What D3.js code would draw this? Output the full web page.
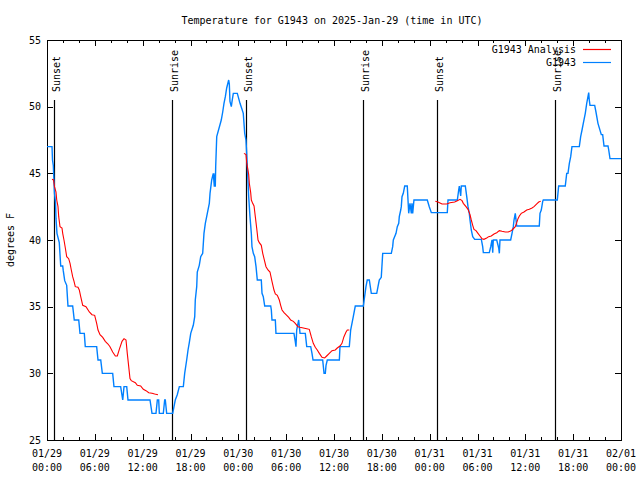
<!DOCTYPE html>
<html><head><meta charset="utf-8">
<script src="https://cdn.jsdelivr.net/npm/d3@7"></script>
<style>
body{margin:0;background:#fff}
svg{display:block}
text{font-family:"DejaVu Sans Mono","Liberation Mono",monospace;font-size:10px;fill:#000}
</style>
</head><body><svg id="chart" width="640" height="480"></svg>
<script>
// ---------- data ----------
const chartTitle = "Temperature for G1943 on 2025-Jan-29 (time in UTC)";
const yAxisLabel = "degrees F";
const startTime = Date.UTC(2025, 0, 29, 0, 0);
const endTime = Date.UTC(2025, 1, 1, 0, 0);
const yDomain = [25, 55];
const yTickValues = [25, 30, 35, 40, 45, 50, 55];
const legendLabels = ["G1943 Analysis", "G1943"];
const seriesColors = ["#ff0000", "#0080ff"];

// sunrise / sunset events: hours since 01/29 00:00 UTC
const sunLabels = ["Sunset", "Sunrise", "Sunset", "Sunrise", "Sunset", "Sunrise"];
const sunHours = [0.91, 15.72, 24.99, 39.68, 48.96, 63.77];

// observed temperature [hours since start, degF]
const observed = [
[0,47],[0.63,47],[0.69,46],[0.79,45.6],[0.94,43.5],[1.07,42.8],[1.13,41.6],[1.25,40.5],[1.54,39.8],
[1.72,38.05],[1.97,38.05],[2.04,37.7],[2.22,36.95],[2.47,36.6],[2.63,35.05],[3.22,35.05],[3.42,34],
[3.98,34],[4.14,33],[4.68,33],[4.80,32],[6.23,32],[6.40,31],[6.74,31],[6.94,30],[8.24,30],[8.40,29],
[9.24,29],[9.50,28],[9.66,29],[10.00,29],[10.16,28],[12.92,28],[13.17,27],[13.67,27],[13.84,28],
[14.01,28],[14.09,27],[14.59,27],[14.76,28],[14.84,28],[15.01,27],[15.77,27],[15.93,27.5],[16.09,28],
[16.34,28.4],[16.60,29],[17.10,29],[17.27,30],[17.52,31],[17.69,31.75],[17.85,32.3],[18.03,33],
[18.35,33.6],[18.53,34.25],[18.60,35.5],[18.78,36.5],[18.85,37.6],[19.10,38.1],[19.28,38.75],
[19.53,39],[19.69,40.5],[19.86,41.25],[20.11,42],[20.36,42.75],[20.45,43.5],[20.66,44.5],[20.86,45],
[20.99,44],[21.07,45],[21.11,44],[21.16,45.5],[21.29,47.75],[21.86,49],[22.04,49.6],[22.20,50.25],
[22.37,50.75],[22.54,51.4],[22.79,52],[22.87,51.7],[22.95,50.4],[23.12,50],[23.21,50.4],[23.37,51],
[23.87,51],[24.05,50.6],[24.21,50.25],[24.46,49.8],[24.62,49.5],[24.80,48],[24.96,47.5],[25.05,46.5],
[25.13,45.5],[25.30,43.25],[25.46,41.75],[25.63,40.5],[25.71,39.5],[25.88,39],[26.05,38.75],
[26.22,38],[26.38,37],[26.88,37],[26.97,36],[27.13,35.75],[27.31,35.05],[28.06,35.05],[28.14,34.75],
[28.22,34],[28.64,34],[28.72,33],[30.98,33],[31.14,32.4],[31.23,32],[31.32,33.25],[31.57,34],
[31.74,33],[32.40,33],[32.58,32],[33.08,32],[33.24,31.5],[33.37,31],[34.58,31],[34.75,30],
[34.91,30],[35.00,30.6],[35.16,31],[36.67,31],[36.75,32],[37.92,32],[38.09,33.25],[38.42,34.25],
[38.67,35.05],[39.68,35.05],[39.76,35.4],[40.01,36.5],[40.17,37],[40.43,37],[40.68,36],[41.36,36],
[41.52,36.5],[41.68,37],[41.93,37.2],[42.11,39],[43.19,39],[43.36,39.5],[43.44,40],[43.78,40.5],
[43.94,41],[44.12,41.25],[44.19,41.75],[44.37,42.25],[44.44,42.5],[44.53,43.25],[44.69,43.5],
[44.87,44.05],[45.19,44.05],[45.37,42],[45.53,42.75],[45.70,42],[45.78,42.75],[45.87,42],[46.03,43],
[47.70,43],[47.95,42.5],[48.21,42.05],[50.21,42.05],[50.30,43],[51.47,43],[51.64,43.75],[51.72,44.05],
[51.89,43.3],[51.97,44.05],[52.47,44.05],[52.65,43.25],[52.81,42.5],[52.97,42],[53.06,41.5],
[53.22,40.75],[53.40,40.25],[53.65,40.05],[54.48,40.05],[54.65,39.5],[54.73,39.05],[55.48,39.05],
[55.66,39.5],[55.82,40],[55.91,39.05],[55.98,40],[56.41,40],[56.66,39.4],[56.74,39],[56.82,40],
[58.16,40],[58.33,40.5],[58.49,41],[58.58,41.5],[58.74,42],[58.92,41.05],[61.75,41.05],[61.84,42],
[62.00,42.25],[62.18,42.9],[62.25,43],[64.01,43],[64.18,44.05],[65.01,44.05],[65.19,45],[65.35,45],
[65.52,45.75],[65.69,46.25],[65.85,47],[66.77,47],[66.94,47.75],[67.11,48.25],[67.27,48.75],
[67.52,49.5],[67.70,50.25],[67.95,51.05],[68.02,50.5],[68.11,50.1],[68.70,50.1],[68.86,49.6],
[69.11,48.75],[69.53,47.9],[69.70,47.9],[69.87,47.05],[70.37,47.05],[70.46,46.75],[70.62,46.1],
[72.00,46.1]
];

// analysis temperature, three night-time runs [hours since start, degF]
const analysisRun1 = [
[0.63,44.55],[0.82,44.5],[0.94,44.0],[1.13,43.6],[1.22,43.0],[1.38,42.5],[1.47,41.75],[1.63,41.0],
[1.88,40.9],[1.97,40.5],[2.13,40.0],[2.30,39.4],[2.47,38.75],[2.72,38.6],[2.89,38.25],[3.05,37.75],
[3.22,37.25],[3.39,36.9],[3.55,36.5],[3.89,36.45],[4.05,36.25],[4.23,35.75],[4.48,35.1],[4.89,35.0],
[5.31,34.6],[5.64,34.4],[5.98,34.35],[6.23,33.75],[6.40,33.25],[6.65,32.9],[6.99,32.7],[7.31,32.4],
[7.65,32.2],[7.90,32.0],[8.24,31.6],[8.57,31.3],[8.82,31.3],[9.07,31.8],[9.41,32.4],[9.66,32.6],
[9.91,32.5],[10.07,31.5],[10.25,30.5],[10.41,29.6],[10.57,29.45],[11.08,29.3],[11.33,29.1],
[11.75,29.05],[12.08,28.8],[12.42,28.7],[12.76,28.55],[13.17,28.5],[13.51,28.45],[13.92,28.4]
];
const analysisRun2 = [
[24.71,46.5],[24.96,46.4],[25.05,45.8],[25.13,45.5],[25.30,44.9],[25.38,44.25],[25.55,43.55],
[25.63,43.0],[25.80,42.75],[25.97,42.55],[26.13,41.75],[26.30,40.9],[26.47,40.0],[26.63,39.8],
[26.88,39.6],[27.06,39.0],[27.22,38.6],[27.47,38.0],[27.72,37.75],[27.97,37.6],[28.22,36.9],
[28.47,36.25],[28.64,35.95],[28.89,35.85],[29.14,35.5],[29.31,35.1],[29.48,34.75],[29.73,34.55],
[29.98,34.4],[30.32,34.2],[30.57,34.0],[30.90,33.9],[31.14,33.75],[31.48,33.5],[31.74,33.45],
[32.15,33.4],[32.58,33.35],[32.90,33.3],[33.15,32.75],[33.40,32.25],[33.65,31.95],[33.90,31.75],
[34.16,31.5],[34.49,31.2],[34.83,31.15],[35.08,31.3],[35.41,31.5],[35.75,31.7],[36.16,31.75],
[36.41,31.9],[36.75,32.05],[37.00,32.25],[37.25,32.75],[37.51,33.1],[37.67,33.25],[37.92,33.25]
];
const analysisRun3 = [
[48.71,42.9],[49.04,42.85],[49.55,42.7],[50.14,42.7],[50.55,42.8],[51.14,42.85],[51.47,42.95],
[51.81,43.05],[52.06,42.95],[52.22,42.75],[52.56,42.5],[52.81,42.3],[53.06,41.9],[53.22,41.5],
[53.40,41.1],[53.56,40.8],[53.81,40.7],[54.06,40.5],[54.31,40.3],[54.56,40.1],[54.81,40.05],
[55.15,40.15],[55.40,40.25],[55.73,40.3],[56.07,40.45],[56.41,40.55],[56.74,40.7],[57.07,40.65],
[57.49,40.6],[57.83,40.6],[58.08,40.65],[58.33,40.75],[58.58,40.9],[58.74,41.0],[58.92,41.3],
[59.08,41.6],[59.25,41.8],[59.49,42.0],[59.83,42.1],[60.17,42.25],[60.50,42.3],[60.84,42.4],
[61.09,42.5],[61.34,42.65],[61.50,42.75],[61.68,42.85],[61.93,42.9]
];

// ---------- drawing ----------
const svg = d3.select("#chart");
const L = 47, R = 621, T = 40, B = 440;
const toDate = h => new Date(startTime + h * 3600e3);
const x = d3.scaleUtc().domain([new Date(startTime), new Date(endTime)]).range([L, R]);
const y = d3.scaleLinear().domain(yDomain).range([B, T]);

const majorTicks = d3.utcHour.every(6).range(new Date(startTime), new Date(endTime + 1));
const minorTicks = d3.utcHour.every(2).range(new Date(startTime), new Date(endTime + 1));

// title
svg.append("text").attr("x", 332).attr("y", 24).attr("text-anchor", "middle").text(chartTitle);

// y label
svg.append("text").attr("transform", "translate(14,240) rotate(-90)")
  .attr("text-anchor", "middle").text(yAxisLabel);

// axes
const gAx = svg.append("g").attr("shape-rendering", "crispEdges");
function tickAxis(axis, tr, vals, size) {
  const g = gAx.append("g").attr("transform", tr)
    .call(axis.tickValues(vals).tickSize(size).tickSizeOuter(0).tickFormat(""));
  g.select(".domain").remove();
  g.selectAll("text").remove();
  g.selectAll("line").attr("stroke", "#000");
  return g;
}
tickAxis(d3.axisBottom(x), `translate(0,${B})`, minorTicks, -3);
tickAxis(d3.axisBottom(x), `translate(0,${B})`, majorTicks, -6);
tickAxis(d3.axisTop(x), `translate(0,${T})`, minorTicks, -3);
tickAxis(d3.axisTop(x), `translate(0,${T})`, majorTicks, -6);
tickAxis(d3.axisLeft(y), `translate(${L},0)`, yTickValues, -6);
tickAxis(d3.axisRight(y), `translate(${R},0)`, yTickValues, -6);

// y tick labels
const yLab = d3.axisLeft(y).tickValues(yTickValues).tickSize(0).tickPadding(6);
const gy = svg.append("g").attr("transform", `translate(${L},0)`).call(yLab);
gy.select(".domain").remove();
gy.selectAll("text").style("font-family", null).style("font-size", null)
  .attr("font-family", null).attr("font-size", null).attr("fill", "#000");

// x tick labels (two lines)
const fmtDate = d3.utcFormat("%m/%d"), fmtTime = d3.utcFormat("%H:%M");
const gx = svg.append("g");
majorTicks.forEach(d => {
  const t = gx.append("text").attr("text-anchor", "middle");
  t.append("tspan").attr("x", x(d)).attr("y", 457).text(fmtDate(d));
  t.append("tspan").attr("x", x(d)).attr("y", 471).text(fmtTime(d));
});

// frame
svg.append("rect").attr("x", L).attr("y", T).attr("width", R - L).attr("height", B - T)
  .attr("fill", "none").attr("stroke", "#000").attr("shape-rendering", "crispEdges");

// sunrise / sunset lines
const gs = svg.append("g");
sunHours.forEach((h, i) => {
  const xv = Math.round(x(toDate(h))) + 0.5;
  gs.append("line").attr("x1", xv).attr("x2", xv).attr("y1", 100).attr("y2", B)
    .attr("stroke", "#000").attr("stroke-width", 1.2);
  gs.append("text").attr("transform", `translate(${xv + 5},92) rotate(-90)`).text(sunLabels[i]);
});

// series
const line = d3.line().x(d => x(toDate(d[0]))).y(d => y(d[1]));
svg.append("path").datum(observed).attr("d", line).attr("fill", "none")
  .attr("stroke", seriesColors[1]).attr("stroke-width", 1.4).attr("stroke-linejoin", "miter");
[analysisRun1, analysisRun2, analysisRun3].forEach(run => {
  svg.append("path").datum(run).attr("d", line).attr("fill", "none")
    .attr("stroke", seriesColors[0]).attr("stroke-width", 1.1);
});

// legend
const legY = [49, 62];
legendLabels.forEach((lab, i) => {
  svg.append("text").attr("x", 576).attr("y", legY[i] + 4).attr("text-anchor", "end").text(lab);
  svg.append("line").attr("x1", 583).attr("x2", 611).attr("y1", legY[i] + 0.5).attr("y2", legY[i] + 0.5)
    .attr("stroke", seriesColors[i]).attr("stroke-width", 1.2);
});
</script>
</body></html>
